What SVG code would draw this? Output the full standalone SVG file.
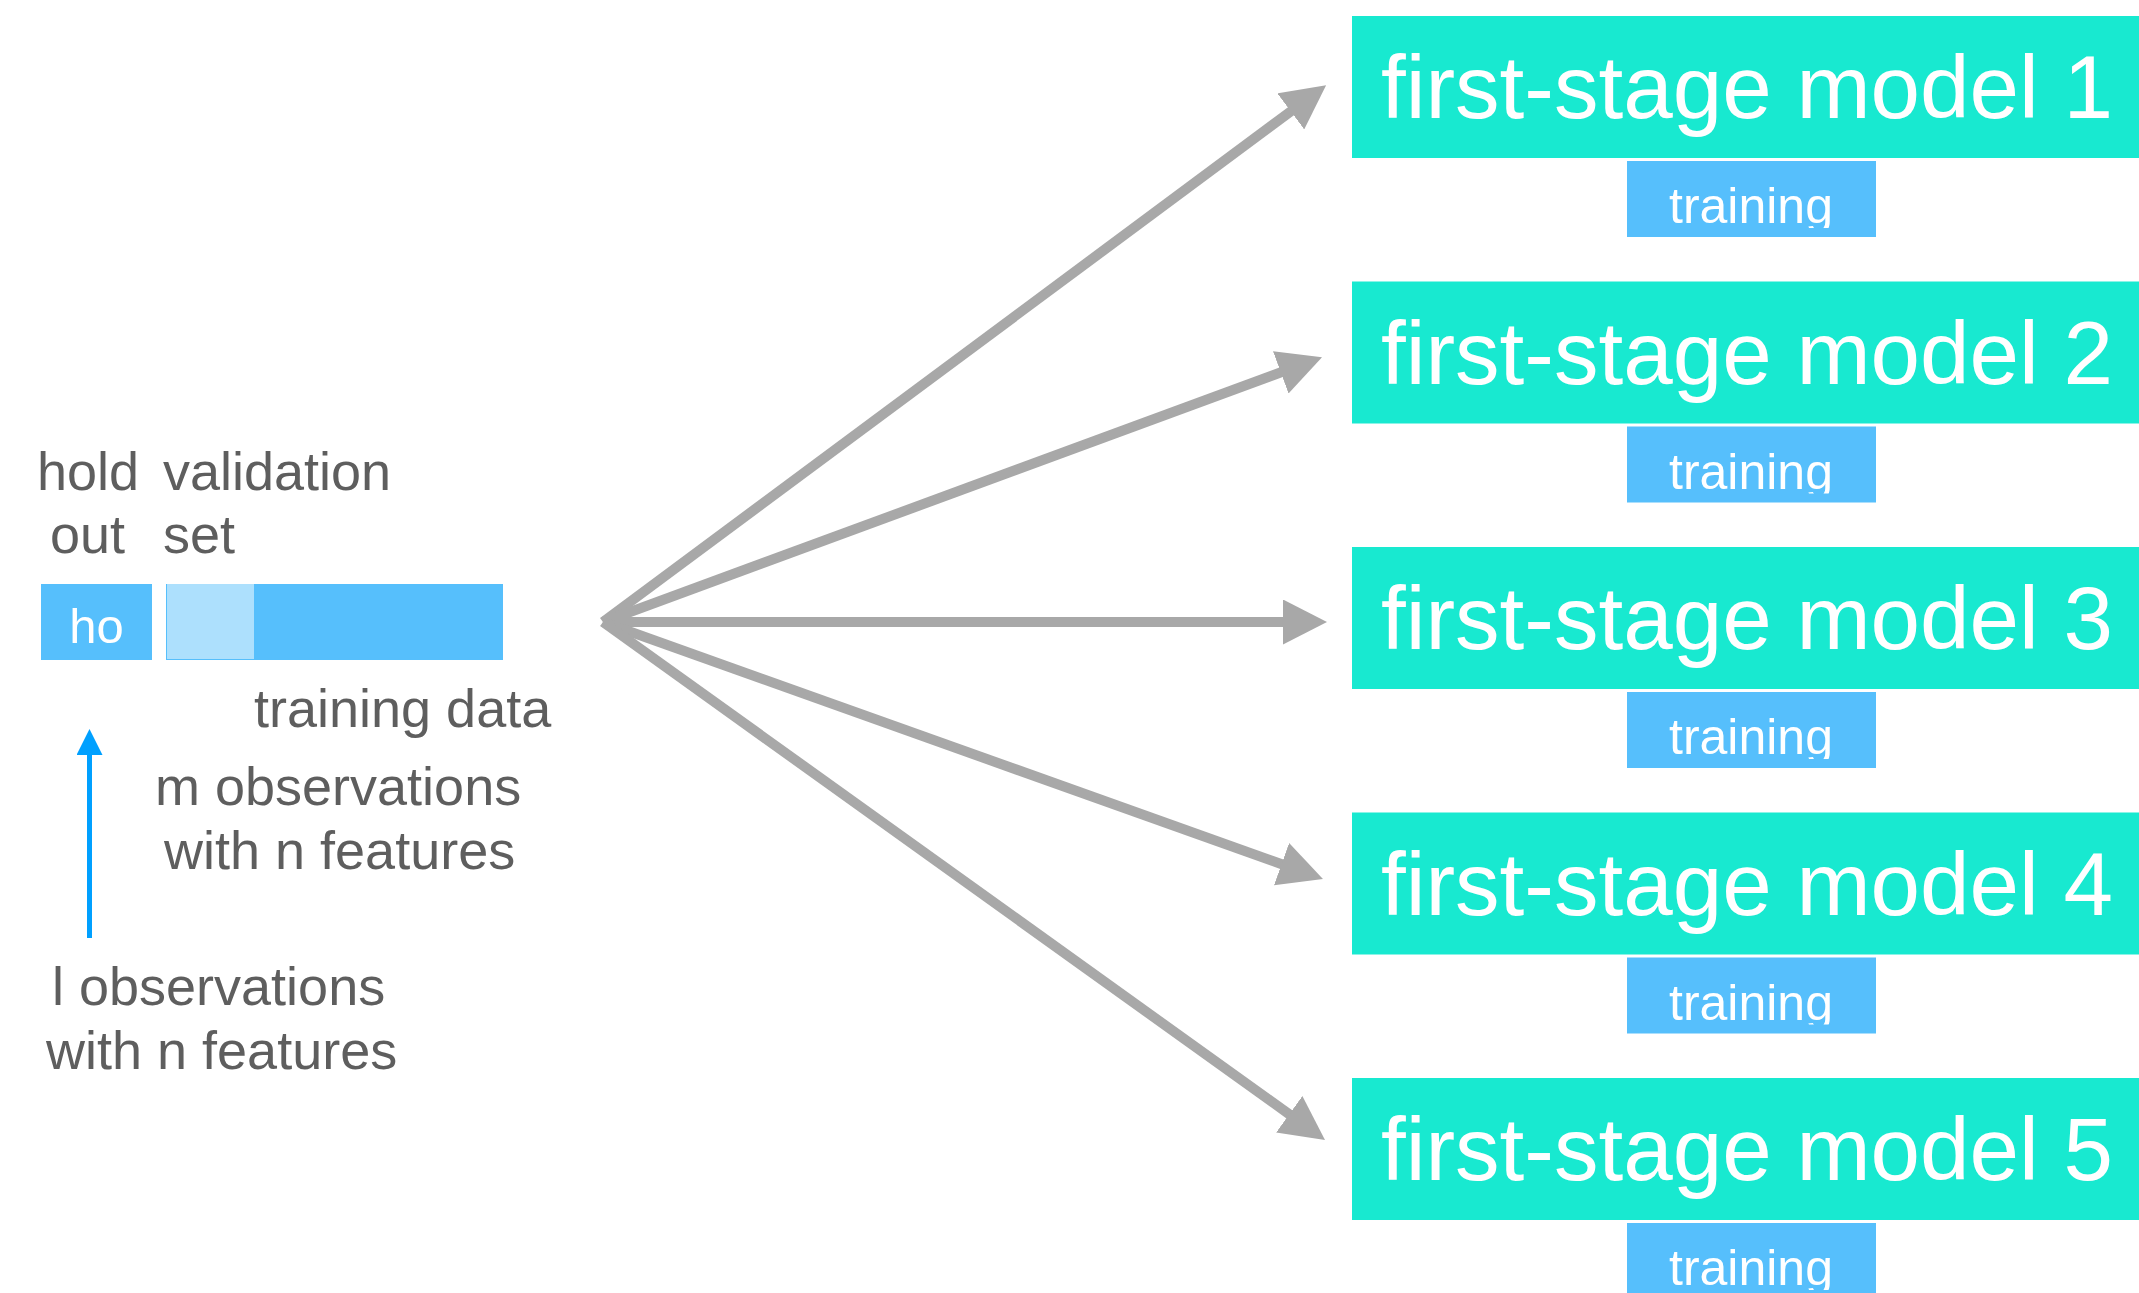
<svg xmlns="http://www.w3.org/2000/svg" width="2139" height="1293" viewBox="0 0 2139 1293">
  <style>
    .label { font-family: "Liberation Sans", Arial, Helvetica, sans-serif; font-size: 54px; fill: #5e5e5e; }
    .model-box { fill: #18e9d0; }
    .model-text { font-family: "Liberation Sans", Arial, Helvetica, sans-serif; font-size: 89px; fill: #ffffff; text-anchor: middle; }
    .train-box { fill: #56bffc; }
    .train-text { font-family: "Liberation Sans", Arial, Helvetica, sans-serif; font-size: 50px; fill: #ffffff; text-anchor: middle; }
    .fan { stroke: #a8a8a8; stroke-width: 10; fill: none; marker-end: url(#grey-head); }
  </style>
  <defs>
    <marker id="grey-head" markerUnits="userSpaceOnUse" markerWidth="44" markerHeight="45" refX="4" refY="22.5" orient="auto">
      <path d="M0,0 L44,22.5 L0,45 Z" fill="#a8a8a8"/>
    </marker>
    <marker id="blue-head" markerUnits="userSpaceOnUse" markerWidth="26" markerHeight="26" refX="3" refY="13" orient="auto">
      <path d="M0,0 L26,13 L0,26 Z" fill="#00a0ff"/>
    </marker>
    <!-- the training caption is cut just below its baseline -->
    <clipPath id="train-clip" clipPathUnits="userSpaceOnUse">
      <rect x="1627" y="150" width="249" height="78"/>
    </clipPath>
  </defs>

  <rect width="2139" height="1293" fill="#ffffff"/>

  <!-- data split on the left -->
  <g id="data-split">
    <text class="label" x="37" y="490">hold</text>
    <text class="label" x="163" y="490">validation</text>
    <text class="label" x="50" y="553">out</text>
    <text class="label" x="163" y="553">set</text>

    <g id="holdout-block">
      <rect x="41" y="584" width="111" height="76" fill="#56bffc"/>
      <text x="96.5" y="643" font-family="'Liberation Sans', Arial, sans-serif" font-size="49" fill="#ffffff" text-anchor="middle">ho</text>
    </g>
    <g id="training-block">
      <rect x="166" y="584" width="337" height="76" fill="#56bffc"/>
      <rect x="167" y="584" width="87" height="75" fill="#ade0fd"/>
    </g>

    <text class="label" x="254" y="727">training data</text>
    <text class="label" x="155" y="805">m observations</text>
    <text class="label" x="164" y="869">with n features</text>
    <text class="label" x="52" y="1005">l observations</text>
    <text class="label" x="46" y="1069">with n features</text>
  </g>

  <!-- connectors -->
  <g id="connectors">
    <line x1="89.5" y1="938" x2="89.5" y2="752" stroke="#00a0ff" stroke-width="5" marker-end="url(#blue-head)"/>
    <line class="fan" x1="603" y1="622" x2="1294" y2="109"/>
    <line class="fan" x1="603" y1="622" x2="1284.5" y2="371"/>
    <line class="fan" x1="603" y1="622" x2="1287" y2="622"/>
    <line class="fan" x1="603" y1="622" x2="1285.3" y2="865.5"/>
    <line class="fan" x1="603" y1="622" x2="1292.5" y2="1116.6"/>
  </g>

  <!-- first-stage models -->
  <g id="model-1" transform="translate(0,0)">
    <rect class="model-box" x="1352" y="16" width="800" height="142"/>
    <text class="model-text" x="1747" y="118">first-stage model 1</text>
    <rect class="train-box" x="1627" y="161" width="249" height="76"/>
    <text class="train-text" x="1751" y="223" clip-path="url(#train-clip)">training</text>
  </g>
  <g id="model-2" transform="translate(0,265.5)">
    <rect class="model-box" x="1352" y="16" width="800" height="142"/>
    <text class="model-text" x="1747" y="118">first-stage model 2</text>
    <rect class="train-box" x="1627" y="161" width="249" height="76"/>
    <text class="train-text" x="1751" y="223" clip-path="url(#train-clip)">training</text>
  </g>
  <g id="model-3" transform="translate(0,531)">
    <rect class="model-box" x="1352" y="16" width="800" height="142"/>
    <text class="model-text" x="1747" y="118">first-stage model 3</text>
    <rect class="train-box" x="1627" y="161" width="249" height="76"/>
    <text class="train-text" x="1751" y="223" clip-path="url(#train-clip)">training</text>
  </g>
  <g id="model-4" transform="translate(0,796.5)">
    <rect class="model-box" x="1352" y="16" width="800" height="142"/>
    <text class="model-text" x="1747" y="118">first-stage model 4</text>
    <rect class="train-box" x="1627" y="161" width="249" height="76"/>
    <text class="train-text" x="1751" y="223" clip-path="url(#train-clip)">training</text>
  </g>
  <g id="model-5" transform="translate(0,1062)">
    <rect class="model-box" x="1352" y="16" width="800" height="142"/>
    <text class="model-text" x="1747" y="118">first-stage model 5</text>
    <rect class="train-box" x="1627" y="161" width="249" height="76"/>
    <text class="train-text" x="1751" y="223" clip-path="url(#train-clip)">training</text>
  </g>
</svg>
